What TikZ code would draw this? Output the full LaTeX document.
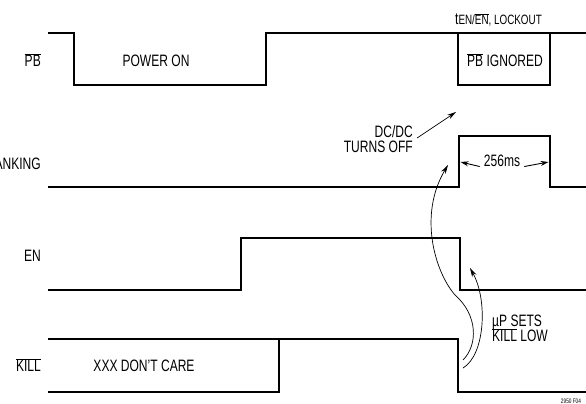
\documentclass[tikz,border=0pt]{standalone}
\usepackage{fontspec}
\setmainfont{Liberation Sans}[FakeStretch=0.73]
\usetikzlibrary{arrows.meta}
\newcommand{\ovl}[1]{$\overline{\mbox{#1}}$}
\begin{document}
\begin{tikzpicture}[x=1pt,y=-1pt,
  wave/.style={line width=1.6pt, line join=miter},
  lbl/.style={font=\fontsize{16.5}{19}\selectfont, inner sep=0pt},
  tinylbl/.style={font=\fontsize{6.5}{7}\selectfont, inner sep=0pt},
  ann/.style={line width=0.7pt, -{Stealth[length=9pt,width=5pt]}},
  dimarrow/.style={line width=0.9pt, -{Stealth[length=8pt,width=5pt]}},
]
\useasboundingbox (0,0) rectangle (586,404);

% ---- waveforms ----
% PB
\draw[wave] (48,33) -- (74,33) -- (74,85) -- (266,85) -- (266,33) -- (586,33);
\draw[wave] (458,33) -- (458,85) -- (550,85) -- (550,33);
% BLANKING
\draw[wave] (48,187) -- (459,187) -- (459,136) -- (550,136) -- (550,187) -- (586,187);
% EN
\draw[wave] (48,290) -- (241,290) -- (241,238) -- (460,238) -- (460,290) -- (586,290);
% KILL
\draw[wave] (48,339) -- (458,339) -- (458,392) -- (586,392);
\draw[wave] (48,392) -- (279,392) -- (279,339);

% ---- labels ----
\node[lbl, anchor=base east] (pbl) at (41,66.5) {\ovl{PB}};
\node[lbl, anchor=base] (pwron) at (156,66.5) {POWER ON};
\node[lbl, anchor=base] (pbign) at (505,66.5) {\ovl{PB} IGNORED};
\node[anchor=base west, inner sep=0pt] (lock) at (455,25)
  {\fontsize{16.5}{19}\selectfont t\fontsize{13.5}{15}\selectfont EN/\ovl{EN}, LOCKOUT};
\node[lbl, anchor=base east] (blk) at (41,169.3) {BLANKING};
\node[lbl, anchor=base east] (dc1) at (413,137) {DC/DC};
\node[lbl, anchor=base east] (dc2) at (413,152.5) {TURNS OFF};
\node[lbl, anchor=base] (t256) at (502,166.7) {256ms};
\node[lbl, anchor=base east] (enl) at (41,261.7) {EN};
\node[lbl, anchor=base west] (up1) at (492,326) {µP SETS};
\node[lbl, anchor=base west] (up2) at (492,341.5) {\ovl{KILL} LOW};
\node[lbl, anchor=base east] (kll) at (41,371.7) {\ovl{KILL}};
\node[lbl, anchor=base] (xxx) at (144,371.7) {XXX DON'T CARE};
\node[tinylbl, anchor=base] (fig) at (571,403.5) {2950 F04};

% ---- annotation arrows ----
\coordinate (dcs) at (417,138);
\coordinate (dct) at (456,112);
\draw[ann] (dcs) -- (dct);

\coordinate (bl) at (460.5,162);
\coordinate (br) at (548.5,162);
\draw[dimarrow] ([xshift=-4pt,yshift=-5.5pt]t256.west) -- (bl);
\draw[dimarrow] ([xshift=4pt,yshift=-5.5pt]t256.east) -- (br);

\coordinate (a0) at (463,360);
\coordinate (a1) at (455,295);
\coordinate (a2) at (448,165);
\draw[ann] (a0) .. controls (478,345) and (478,315) .. (a1)
  .. controls (435,272) and (418,215) .. (a2);

\coordinate (b0) at (463,368);
\coordinate (b1) at (470,268);
\draw[ann] (b0) .. controls (485,355) and (488,300) .. (b1);
\end{tikzpicture}
\end{document}
